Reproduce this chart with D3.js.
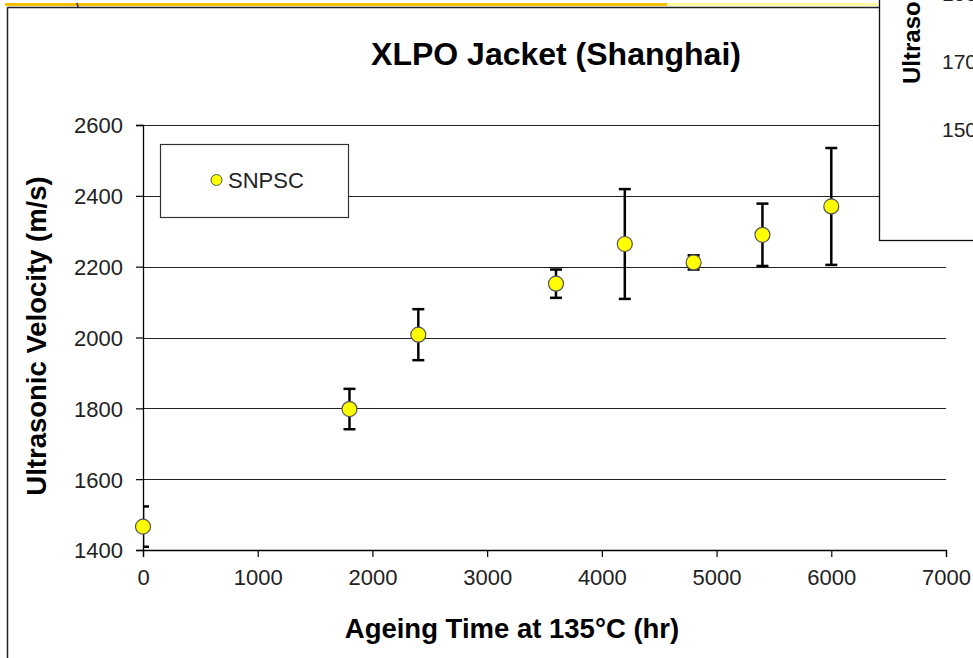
<!DOCTYPE html>
<html>
<head>
<meta charset="utf-8">
<script src="https://cdn.jsdelivr.net/npm/d3@7"></script>
<style>
  html, body { margin: 0; padding: 0; background: #fff; }
  svg { display: block; font-family: "Liberation Sans", Arial, sans-serif; }
</style>
</head>
<body>
<svg id="chart" width="973" height="658"></svg>
<script>
// ---- data ----
const hours = [0, 1800, 2400, 3600, 4200, 4800, 5400, 6000];
const velocity = [1466, 1798, 2008, 2152, 2264, 2212, 2290, 2370];
const errors = [57, 57, 72, 40, 155, 20, 88, 165];
const xTicks = [0, 1000, 2000, 3000, 4000, 5000, 6000, 7000];
const yTicks = [1400, 1600, 1800, 2000, 2200, 2400, 2600];
const seriesName = "SNPSC";
const titleText = "XLPO Jacket (Shanghai)";
const xTitle = "Ageing Time at 135°C (hr)";
const yTitle = "Ultrasonic Velocity (m/s)";
const sideTicks = ["190", "170", "150"];

const svg = d3.select("#chart");
const W = 973, H = 658;
const plot = { left: 143, top: 125, right: 946, bottom: 550 };

const x = d3.scaleLinear().domain([0, 7000]).range([plot.left, plot.right]);
const y = d3.scaleLinear().domain([1400, 2600]).range([plot.bottom, plot.top]);

// slide decorations: yellow strip and frame
svg.append("rect").attr("x", 5).attr("y", 3).attr("width", 662).attr("height", 3).attr("fill", "#FFC000");
svg.append("rect").attr("x", 667).attr("y", 3).attr("width", 212).attr("height", 3).attr("fill", "#FFFFA0");
svg.append("line").attr("x1", 77).attr("x2", 78).attr("y1", 3).attr("y2", 7).attr("stroke", "#333").attr("stroke-width", 1.5);
svg.append("line").attr("x1", 7.5).attr("x2", 879).attr("y1", 7.5).attr("y2", 7.5).attr("stroke", "#222").attr("stroke-width", 1.5);
svg.append("line").attr("x1", 7.5).attr("x2", 7.5).attr("y1", 7).attr("y2", H).attr("stroke", "#222").attr("stroke-width", 1.5);

// title
svg.append("text").attr("x", 556).attr("y", 65).attr("text-anchor", "middle")
  .attr("font-size", 32).attr("font-weight", "bold").attr("fill", "#000").text(titleText);

// gridlines
svg.append("g").selectAll("line").data(yTicks.filter(d => d > 1400)).join("line")
  .attr("x1", plot.left).attr("x2", plot.right)
  .attr("y1", d => Math.round(y(d)) + 0.5).attr("y2", d => Math.round(y(d)) + 0.5)
  .attr("stroke", "#222").attr("stroke-width", 1.2);

// axes
const yAxis = svg.append("g").attr("transform", `translate(${plot.left},0)`)
  .call(d3.axisLeft(y).tickValues(yTicks).tickSize(7).tickPadding(13).tickFormat(d3.format("d")));
const xAxis = svg.append("g").attr("transform", `translate(0,${plot.bottom})`)
  .call(d3.axisBottom(x).tickValues(xTicks).tickSize(7).tickPadding(12).tickFormat(d3.format("d")));
[yAxis, xAxis].forEach(a => {
  a.select(".domain").attr("stroke", "#000").attr("stroke-width", 1.3);
  a.selectAll(".tick line").attr("stroke", "#000").attr("stroke-width", 1.2);
  a.selectAll("text").attr("font-size", 22).attr("fill", "#222").attr("font-family", "Liberation Sans, Arial, sans-serif");
});
yAxis.selectAll("text").attr("dy", "0.36em");

// axis titles
svg.append("text").attr("transform", `translate(46,336) rotate(-90)`).attr("text-anchor", "middle")
  .attr("font-size", 27.5).attr("font-weight", "bold").attr("fill", "#000").text(yTitle);
svg.append("text").attr("x", 512).attr("y", 638).attr("text-anchor", "middle")
  .attr("font-size", 27.5).attr("font-weight", "bold").attr("fill", "#000").text(xTitle);

// clip for error bars
svg.append("clipPath").attr("id", "plotclip").append("rect")
  .attr("x", plot.left + 1).attr("y", plot.top - 20).attr("width", plot.right - plot.left).attr("height", plot.bottom - plot.top + 19);

const data = hours.map((h, i) => ({ h, v: velocity[i], e: errors[i] }));
const eb = svg.append("g").attr("clip-path", "url(#plotclip)").attr("stroke", "#000").attr("stroke-width", 2.5);
const capW = 6;
data.forEach(d => {
  const cx = x(d.h);
  eb.append("line").attr("x1", cx).attr("x2", cx).attr("y1", y(d.v + d.e)).attr("y2", y(d.v - d.e));
  eb.append("line").attr("x1", cx - capW).attr("x2", cx + capW).attr("y1", y(d.v + d.e)).attr("y2", y(d.v + d.e));
  eb.append("line").attr("x1", cx - capW).attr("x2", cx + capW).attr("y1", y(d.v - d.e)).attr("y2", y(d.v - d.e));
});

// markers
svg.append("g").selectAll("circle").data(data).join("circle")
  .attr("cx", d => x(d.h)).attr("cy", d => y(d.v)).attr("r", 7.5)
  .attr("fill", "#FFFF00").attr("stroke", "#555").attr("stroke-width", 1.2);

// legend
const lg = svg.append("g");
lg.append("rect").attr("x", 160.5).attr("y", 144.5).attr("width", 188).attr("height", 73)
  .attr("fill", "#fff").attr("stroke", "#333").attr("stroke-width", 1.2);
lg.append("circle").attr("cx", 216.5).attr("cy", 180).attr("r", 5.5)
  .attr("fill", "#FFFF00").attr("stroke", "#555").attr("stroke-width", 1);
lg.append("text").attr("x", 228).attr("y", 180).attr("dy", "0.36em")
  .attr("font-size", 22).attr("fill", "#222").text(seriesName);

// overlapping neighbouring panel (top right)
const side = svg.append("g");
side.append("rect").attr("x", 879.5).attr("y", -10).attr("width", 120).attr("height", 250.5)
  .attr("fill", "#fff").attr("stroke", "#111").attr("stroke-width", 1.3);
side.append("text").attr("transform", "translate(920,84) rotate(-90)").attr("text-anchor", "start")
  .attr("font-size", 24).attr("font-weight", "bold").attr("fill", "#000").text("Ultrasonic");
side.selectAll("text.tk").data(sideTicks).join("text").attr("class", "tk")
  .attr("x", 942).attr("y", (d, i) => 1 + i * 68).attr("font-size", 21).attr("fill", "#222").text(d => d);
</script>
</body>
</html>
